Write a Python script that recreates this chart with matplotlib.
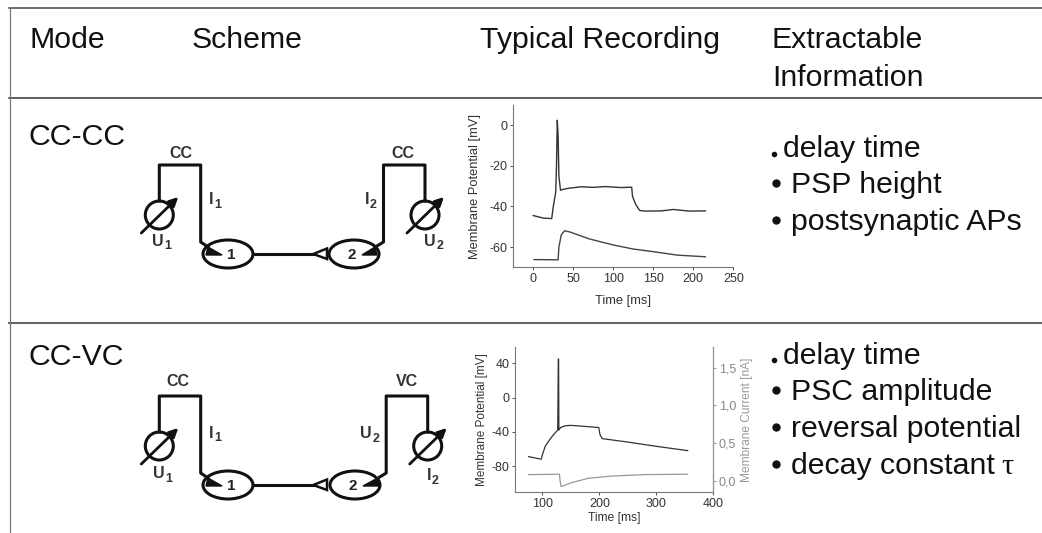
import numpy as np
import matplotlib
matplotlib.use('Agg')
from matplotlib import pyplot as plt
from matplotlib.patches import Ellipse, Circle, Polygon

plt.rcParams['font.family'] = ['Liberation Sans', 'DejaVu Sans']
plt.rcParams['axes.unicode_minus'] = False

W, H = 1042, 533

# traces
cc_time = [0, 5, 12, 23, 25, 28, 29, 30, 31, 32, 34, 38, 45, 60, 75, 90, 110, 123, 124, 128, 133, 140, 160, 175, 195, 215]
cc_pre = [-44.5, -45, -45.7, -46, -40, -33, -20, 2.5, -5, -25, -32, -31.5, -31, -30.3, -30.6, -30.2, -30.7, -30.5, -35, -39, -42, -42.3, -42.2, -41.5, -42.3, -42.2]
cc_post_time = [1, 31, 32, 35, 39, 45, 70, 100, 125, 150, 180, 215]
cc_post = [-66.2, -66.3, -60, -54, -52, -52.5, -56, -59, -61, -62.3, -64, -64.8]

vc_time = [76, 90, 98, 100, 105, 112, 120, 127, 128, 128.5, 129, 132, 140, 150, 180, 199, 201, 205, 250, 300, 355]
vc_pre = [-69, -71, -72, -67, -57, -50, -43, -38, 45, 45, -38, -35, -33, -32.5, -34, -35, -43, -48, -52, -57, -62]
vc_cur_time = [76, 130, 131, 133, 150, 180, 220, 280, 355]
vc_cur = [0.08, 0.085, 0.0, -0.08, -0.03, 0.03, 0.06, 0.08, 0.085]

info_cc = ['delay time', 'PSP height', 'postsynaptic APs']
info_vc = ['delay time', 'PSC amplitude', 'reversal potential', 'decay constant']

fig = plt.figure(figsize=(W / 100, H / 100), dpi=100)
bg = fig.add_axes([0, 0, 1, 1])
bg.set_xlim(0, W)
bg.set_ylim(H, 0)
bg.axis('off')


def px_axes(left, top, right, bottom):
    return fig.add_axes([left / W, 1 - bottom / H, (right - left) / W, (bottom - top) / H])


# table
bg.plot([9, W], [8, 8], color='#444444', lw=1.1)
bg.plot([9, W], [97.5, 97.5], color='#444444', lw=1.2)
bg.plot([9, W], [323, 323], color='#666666', lw=1.5)
bg.plot([9.5, 9.5], [8, H], color='#777777', lw=0.9)

fs = 21.8
tc = '#111111'
bg.text(29, 48, 'Mode', fontsize=fs, color=tc)
bg.text(192, 48, 'Scheme', fontsize=fs, color=tc)
bg.text(480, 48, 'Typical Recording', fontsize=fs, color=tc)
bg.text(772, 48, 'Extractable', fontsize=fs, color=tc)
bg.text(772, 86, 'Information', fontsize=fs, color=tc)
bg.text(29, 145, 'CC-CC', fontsize=fs, color=tc)
bg.text(29, 365, 'CC-VC', fontsize=fs, color=tc)


def info_list(items, base):
    for i, t in enumerate(items):
        y = base[i]
        bg.text(783 if i == 0 else 791, y, t, fontsize=fs, color=tc)
        if i == 0:
            bg.plot([773.5], [y - 3.5], 'o', ms=3, color=tc)
        else:
            bg.plot([775.5], [y - 10], 'o', ms=5, color=tc)


info_list(info_cc, [157, 193, 230])
info_list(info_vc, [363.5, 399.5, 437, 473.5])
bg.text(1001, 473.5, 'τ', fontsize=fs, color=tc, family='Liberation Serif')


def gauge(cx, cy):
    bg.add_patch(Circle((cx, cy), 14, fill=False, ec='#111111', lw=2.2))
    bg.annotate('', xy=(cx + 19, cy - 18), xytext=(cx - 18, cy + 18),
                arrowprops=dict(arrowstyle='-|>', color='#111111', lw=2, mutation_scale=13, shrinkA=0, shrinkB=0))


def scheme(dy, xr, tip2, lab):
    top = 165 + dy
    low = 242 + dy
    bg.plot([159.3, 159.3, 200.7, 200.7, 208], [201 + dy, top, top, low, low + 5], color='#111111', lw=2.2)
    bg.plot([xr, xr, xr - 41.5, xr - 41.5, xr - 48], [201 + dy, top, top, low, low + 4], color='#111111', lw=2.2)
    gauge(159.3, 215 + dy)
    gauge(xr, 215 + dy)
    cy = 254 + dy
    bg.add_patch(Ellipse((228, cy), 50, 28, fill=False, ec='#111111', lw=2.2))
    bg.add_patch(Ellipse((tip2 - 7, cy), 50, 28, fill=False, ec='#111111', lw=2.2))
    bg.plot([252.7, 315], [cy, cy], color='#111111', lw=2.2)
    bg.add_patch(Polygon([(313.3, cy), (327, cy - 5.5), (327, cy + 5)], fill=False, ec='#111111', lw=1.8))
    bg.add_patch(Polygon([(208, cy - 7), (222, cy + 1), (206, cy + 1)], color='#111111'))
    bg.add_patch(Polygon([(xr - 50, cy - 7), (tip2 + 1, cy + 1), (xr - 48, cy + 1)], color='#111111'))
    bg.text(231.5, cy + 1, '1', fontsize=11, fontweight='bold', ha='center', va='center', color='#222222')
    bg.text(tip2 - 9, cy + 1, '2', fontsize=11, fontweight='bold', ha='center', va='center', color='#222222')
    for x, y, main, sub in lab:
        bg.text(x, y, main, fontsize=11.5, fontweight='bold', ha='center', va='center', color='#333333')
        if sub:
            bg.text(x + (10 if main == 'U' else 6.5), y + 5, sub, fontsize=9, fontweight='bold', ha='center', va='center', color='#333333')


scheme(0, 425, 361, [(180.7, 153, 'CC', ''), (402.7, 153, 'CC', ''), (211, 200, 'I', '1'), (367, 200, 'I', '2'),
                     (158, 241, 'U', '1'), (430, 241, 'U', '2')])
scheme(231, 427.7, 362, [(178.3, 381, 'CC', ''), (406.7, 381, 'VC', ''), (211, 433, 'I', '1'), (366, 434, 'U', '2'),
                         (159, 474, 'U', '1'), (429, 476, 'I', '2')])

# recording, CC-CC
ax = px_axes(513.3, 105, 733.3, 267.3)
ax.plot(cc_time, cc_pre, color='#333333', lw=1)
ax.plot(cc_post_time, cc_post, color='#444444', lw=1)
ax.set_xlim(-25, 250)
ax.set_ylim(-70, 10)
ax.set_xticks([0, 50, 100, 150, 200, 250])
ax.set_yticks([0, -20, -40, -60])
ax.set_xlabel('Time [ms]', fontsize=9.3, color='#333333', va='center')
ax.set_ylabel('Membrane Potential [mV]', fontsize=9.3, color='#333333', va='center')
ax.xaxis.set_label_coords(0.5, -0.205)
ax.yaxis.set_label_coords(-0.175, 0.5)
ax.tick_params(labelsize=9, length=2, width=0.6, colors='#333333', pad=2)
for s in ['top', 'right']:
    ax.spines[s].set_visible(False)
for s in ['left', 'bottom']:
    ax.spines[s].set_color('#777777')

# recording, CC-VC
ax2 = px_axes(515, 347.3, 713.3, 492.3)
ax2.plot(vc_time, vc_pre, color='#333333', lw=0.9)
ax2.set_xlim(52, 400)
ax2.set_ylim(-110.7, 58.7)
ax2.set_xticks([100, 200, 300, 400])
ax2.set_yticks([40, 0, -40, -80])
ax2.set_xlabel('Time [ms]', fontsize=8.7, color='#333333', va='center')
ax2.set_ylabel('Membrane Potential [mV]', fontsize=8.5, color='#333333', va='center')
ax2.xaxis.set_label_coords(0.5, -0.18)
ax2.yaxis.set_label_coords(-0.165, 0.5)
ax2.tick_params(labelsize=9, length=2, width=0.6, colors='#333333', pad=2)
ax2.spines['top'].set_visible(False)
ax2.spines['left'].set_color('#777777')
ax2.spines['bottom'].set_color('#777777')

cur = ax2.twinx()
cur.plot(vc_cur_time, vc_cur, color='#999999', lw=0.9)
cur.set_ylim(-0.155, 1.77)
cur.set_yticks([0, 0.5, 1.0, 1.5])
cur.set_yticklabels(['0,0', '0,5', '1,0', '1,5'])
cur.set_ylabel('Membrane Current [nA]', fontsize=8.6, color='#999999', va='center')
cur.yaxis.set_label_coords(1.17, 0.5)
cur.tick_params(labelsize=9, length=2, width=0.6, colors='#888888', pad=2)
cur.spines['top'].set_visible(False)
cur.spines['left'].set_visible(False)
cur.spines['bottom'].set_visible(False)
cur.spines['right'].set_color('#999999')

fig.savefig('out.png', dpi=100)
